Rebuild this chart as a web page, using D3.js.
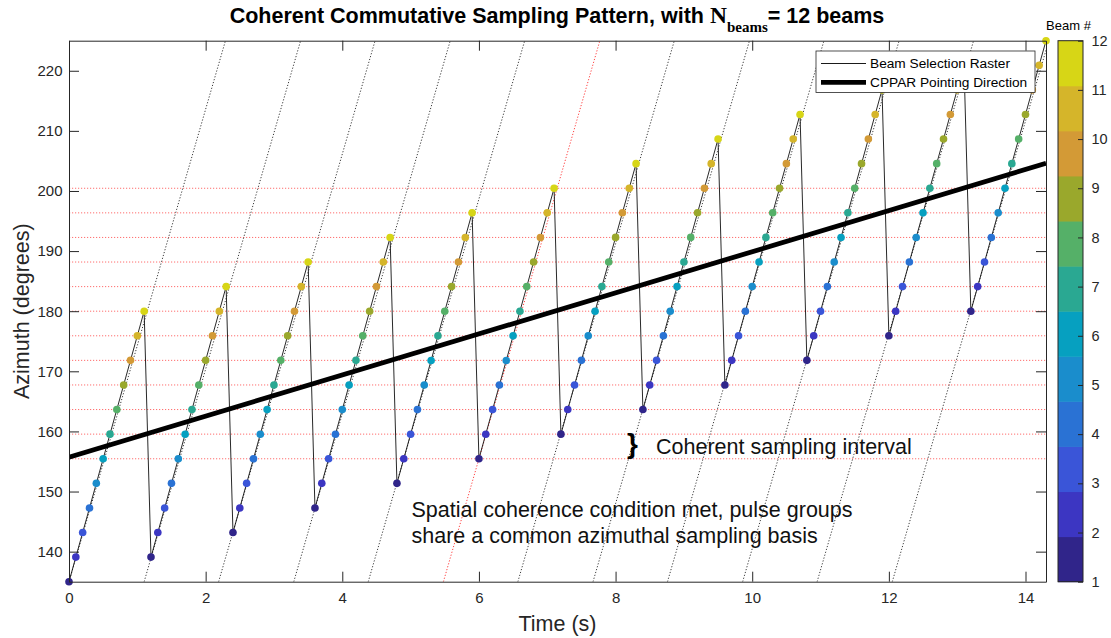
<!DOCTYPE html>
<html>
<head>
<meta charset="utf-8">
<script src="https://cdn.jsdelivr.net/npm/d3@7"></script>
<style>
	body { margin: 0; background: #fff; }
	svg { display: block; font-family: "Liberation Sans", Arial, Helvetica, sans-serif; }
	.axis path, .axis line { stroke: #262626; }
	.axis text { fill: #262626; font-size: 15px; font-family: "Liberation Sans", Arial, sans-serif; }
</style>
</head>
<body>
<div id="chart"></div>
<script>

// pulse groups: start time / azimuth of beam 1 in each group
const groupStartTime = [0, 1.2, 2.4, 3.6, 4.8, 6.0, 7.2, 8.4, 9.6, 10.8, 12.0, 13.2];
const groupStartAz = [135, 139.09, 143.18, 147.27, 151.36, 155.45, 159.55, 163.64, 167.73, 171.82, 175.91, 180];

// beams within a group
const beamNumbers = [1, 2, 3, 4, 5, 6, 7, 8, 9, 10, 11, 12];
const beamTimeOffset = [0, 0.1, 0.2, 0.3, 0.4, 0.5, 0.6, 0.7, 0.8, 0.9, 1.0, 1.1];
const beamAzOffset = [0, 4.09, 8.18, 12.27, 16.36, 20.45, 24.55, 28.64, 32.73, 36.82, 40.91, 45];
const beamColors = ['#30258a', '#3c36c2', '#3a55d8', '#2a72d4', '#1a8dcc', '#06a0c0',
	'#2aa892', '#55b068', '#9aa82c', '#d39a36', '#d5b52a', '#d7d616'];

// coherent sampling grid (red dotted horizontals)
const coherentAz = [155.45, 159.55, 163.64, 167.73, 171.82, 175.91, 180, 184.09, 188.18, 192.27, 196.36, 200.45];

// dotted diagonals: time at 135 deg and time at 225 deg
const diagBottomTime = [0, 1.1, 2.19, 3.29, 4.38, 5.48, 6.57, 7.67, 8.76, 9.86, 10.95, 12.05];
const diagTopTime = [2.29, 3.39, 4.48, 5.58, 6.67, 7.77, 8.86, 9.96, 11.05, 12.15, 13.24, 14.34];
const diagHighlight = 5;

// CPPAR pointing direction
const pointingTime = [0, 14.3];
const pointingAz = [155.7, 204.6];

const xTicks = [0, 2, 4, 6, 8, 10, 12, 14];
const yTicks = [140, 150, 160, 170, 180, 190, 200, 210, 220];

const width = 1111, height = 638;
const plot = { left: 69, right: 1046, top: 40.7, bottom: 581.7 };

const svg = d3.select('#chart').append('svg')
	.attr('width', width)
	.attr('height', height);

const x = d3.scaleLinear().domain([0, 14.3]).range([plot.left, plot.right]);
const y = d3.scaleLinear().domain([135, 225]).range([plot.bottom, plot.top]);

svg.append('clipPath').attr('id', 'clip')
	.append('rect')
		.attr('x', plot.left).attr('y', plot.top)
		.attr('width', plot.right - plot.left)
		.attr('height', plot.bottom - plot.top);

const g = svg.append('g').attr('clip-path', 'url(#clip)');

// red horizontal coherent lines
g.selectAll('line.coh')
	.data(coherentAz).enter()
	.append('line')
		.attr('class', 'coh')
		.attr('x1', plot.left).attr('x2', plot.right)
		.attr('y1', d => y(d)).attr('y2', d => y(d))
		.attr('stroke', '#ff2020')
		.attr('stroke-opacity', 0.65)
		.attr('stroke-width', 1)
		.attr('stroke-dasharray', '1.2,1.8');

// dotted diagonals
g.selectAll('line.diag')
	.data(diagBottomTime).enter()
	.append('line')
		.attr('class', 'diag')
		.attr('x1', d => x(d)).attr('y1', y(135))
		.attr('x2', (d, i) => x(diagTopTime[i])).attr('y2', y(225))
		.attr('stroke', (d, i) => i === diagHighlight ? '#ff2020' : '#1a1a1a')
		.attr('stroke-opacity', 0.85)
		.attr('stroke-width', 1)
		.attr('stroke-dasharray', '1.2,1.8');

// pulse list
const pulses = [];
groupStartTime.forEach((t0, k) => {
	beamNumbers.forEach((b, j) => {
		pulses.push({ t: t0 + beamTimeOffset[j], az: groupStartAz[k] + beamAzOffset[j], beam: b });
	});
});

// beam selection raster
g.append('path')
	.datum(pulses)
	.attr('fill', 'none')
	.attr('stroke', '#111')
	.attr('stroke-width', 0.9)
	.attr('d', d3.line().x(d => x(d.t)).y(d => y(d.az)));

// pointing direction
g.append('path')
	.datum(pointingTime.map((t, i) => [t, pointingAz[i]]))
	.attr('fill', 'none')
	.attr('stroke', '#000')
	.attr('stroke-width', 4.8)
	.attr('d', d3.line().x(d => x(d[0])).y(d => y(d[1])));

const color = d3.scaleOrdinal().domain(beamNumbers).range(beamColors);

svg.append('g').selectAll('circle')
	.data(pulses).enter()
	.append('circle')
		.attr('cx', d => x(d.t))
		.attr('cy', d => y(d.az))
		.attr('r', 3.8)
		.attr('fill', d => color(d.beam));

// axes (MATLAB style, ticks inward, box on)
svg.append('g').attr('class', 'axis')
	.attr('transform', `translate(0, ${plot.bottom})`)
	.call(d3.axisBottom(x).tickValues(xTicks).tickSizeInner(-10).tickSizeOuter(0).tickPadding(11).tickFormat(d3.format('d')));

svg.append('g').attr('class', 'axis')
	.attr('transform', `translate(0, ${plot.top})`)
	.call(d3.axisTop(x).tickValues(xTicks).tickSizeInner(-10).tickSizeOuter(0).tickFormat(''));

svg.append('g').attr('class', 'axis')
	.attr('transform', `translate(${plot.left}, 0)`)
	.call(d3.axisLeft(y).tickValues(yTicks).tickSizeInner(-10).tickSizeOuter(0).tickPadding(6.5));

svg.append('g').attr('class', 'axis')
	.attr('transform', `translate(${plot.right}, 0)`)
	.call(d3.axisRight(y).tickValues(yTicks).tickSizeInner(-10).tickSizeOuter(0).tickFormat(''));

// axis labels
svg.append('text')
	.attr('x', (plot.left + plot.right) / 2)
	.attr('y', 631)
	.attr('text-anchor', 'middle')
	.attr('font-size', '21.5px')
	.attr('fill', '#262626')
	.text('Time (s)');

svg.append('text')
	.attr('transform', `translate(28.5, ${(plot.top + plot.bottom) / 2}) rotate(-90)`)
	.attr('text-anchor', 'middle')
	.attr('font-size', '21.5px')
	.attr('fill', '#262626')
	.text('Azimuth (degrees)');

// title
const title = svg.append('text')
	.attr('x', 557)
	.attr('y', 22.7)
	.attr('text-anchor', 'middle')
	.attr('font-weight', 'bold')
	.attr('font-size', '21.5px')
	.attr('fill', '#000');
title.append('tspan').text('Coherent Commutative Sampling Pattern, with ');
title.append('tspan')
	.attr('font-family', '"Liberation Serif", "Times New Roman", serif')
	.attr('font-size', '23.5px')
	.text('N');
title.append('tspan')
	.attr('font-family', '"Liberation Serif", "Times New Roman", serif')
	.attr('font-size', '15px')
	.attr('dy', 9.6)
	.text('beams');
title.append('tspan')
	.attr('dy', -9.6)
	.text('= 12 beams');

// annotations
svg.append('text')
	.attr('x', 627).attr('y', 453)
	.attr('font-size', '28px')
	.attr('font-weight', 'bold')
	.text('}');

svg.append('text')
	.attr('x', 656).attr('y', 454)
	.attr('font-size', '21.5px')
	.attr('fill', '#111')
	.text('Coherent sampling interval');

const note = svg.append('text')
	.attr('x', 411.5).attr('y', 516.5)
	.attr('font-size', '21.5px')
	.attr('fill', '#111');
note.append('tspan').attr('x', 411.5).text('Spatial coherence condition met, pulse groups');
note.append('tspan').attr('x', 411.5).attr('dy', 26).text('share a common azimuthal sampling basis');

// legend
const legend = svg.append('g');
legend.append('rect')
	.attr('x', 816).attr('y', 51)
	.attr('width', 219).attr('height', 41.5)
	.attr('fill', '#fff')
	.attr('stroke', '#262626')
	.attr('stroke-width', 0.8);
const legendItems = [
	{ label: 'Beam Selection Raster', w: 0.9, yy: 63.5 },
	{ label: 'CPPAR Pointing Direction', w: 4.8, yy: 82.3 }
];
legendItems.forEach(it => {
	legend.append('line')
		.attr('x1', 821).attr('x2', 866)
		.attr('y1', it.yy).attr('y2', it.yy)
		.attr('stroke', '#000')
		.attr('stroke-width', it.w);
	legend.append('text')
		.attr('x', 870).attr('y', it.yy)
		.attr('dy', '0.35em')
		.attr('font-size', '13.7px')
		.attr('fill', '#000')
		.text(it.label);
});

// colorbar
const cb = { left: 1058, right: 1083 };
const cbScale = d3.scaleLinear().domain([1, 12]).range([plot.bottom, plot.top]);
const bandH = (plot.bottom - plot.top) / beamNumbers.length;
svg.append('g').selectAll('rect')
	.data(beamNumbers).enter()
	.append('rect')
		.attr('x', cb.left)
		.attr('y', (d, i) => plot.bottom - (i + 1) * bandH)
		.attr('width', cb.right - cb.left)
		.attr('height', bandH + 0.5)
		.attr('fill', d => color(d));
svg.append('rect')
	.attr('x', cb.left).attr('y', plot.top)
	.attr('width', cb.right - cb.left)
	.attr('height', plot.bottom - plot.top)
	.attr('fill', 'none')
	.attr('stroke', '#262626')
	.attr('stroke-width', 1);
svg.append('g').attr('class', 'axis')
	.attr('transform', `translate(${cb.right}, 0)`)
	.call(d3.axisRight(cbScale).tickValues(beamNumbers).tickSizeInner(-5).tickSizeOuter(0).tickPadding(8.5))
	.call(a => a.select('.domain').remove())
	.selectAll('text').style('font-size', '14.5px');

svg.append('text')
	.attr('x', 1068.5).attr('y', 30)
	.attr('text-anchor', 'middle')
	.attr('font-size', '13px')
	.attr('fill', '#000')
	.text('Beam #');

</script>
</body>
</html>
